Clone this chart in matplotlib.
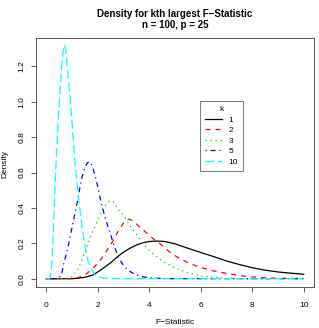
import numpy as np
import matplotlib
matplotlib.use("Agg")
import matplotlib.pyplot as plt

plt.rcParams["font.family"] = ["Liberation Sans", "DejaVu Sans"]

# valores (densidade da k-esima maior estatistica F)
x_k1 = [0, 1.0, 1.2, 1.5, 1.8, 2.0, 2.2, 2.5, 2.8, 3.0, 3.25, 3.5, 3.75, 4.0, 4.3, 4.6, 5.0, 5.5, 6.0, 6.5, 7.0, 7.5, 8.0, 8.5, 9.0, 9.5, 10]
y_k1 = [0, 0, 0.002, 0.008, 0.02, 0.038, 0.058, 0.09, 0.128, 0.15, 0.172, 0.19, 0.203, 0.21, 0.213, 0.21, 0.197, 0.172, 0.148, 0.125, 0.10, 0.08, 0.062, 0.048, 0.038, 0.031, 0.025]

x_k2 = [0, 1.0, 1.2, 1.4, 1.6, 1.8, 2.0, 2.2, 2.4, 2.6, 2.8, 3.0, 3.2, 3.4, 3.6, 3.8, 4.0, 4.2, 4.4, 4.6, 4.8, 5.0, 5.5, 6.0, 6.5, 7.0, 7.5, 8.0, 8.5, 9.0, 10]
y_k2 = [0, 0, 0.005, 0.015, 0.032, 0.056, 0.088, 0.125, 0.17, 0.215, 0.27, 0.315, 0.337, 0.325, 0.295, 0.27, 0.245, 0.22, 0.20, 0.175, 0.15, 0.13, 0.09, 0.063, 0.044, 0.03, 0.018, 0.01, 0.005, 0.002, 0.001]

x_k3 = [0, 0.8, 0.9, 1.0, 1.2, 1.4, 1.6, 1.8, 2.0, 2.2, 2.4, 2.5, 2.6, 2.8, 3.0, 3.25, 3.5, 3.75, 4.0, 4.5, 5.0, 5.5, 6.0, 6.5, 7.0, 8.0, 10]
y_k3 = [0, 0, 0.005, 0.012, 0.045, 0.11, 0.19, 0.265, 0.33, 0.395, 0.435, 0.44, 0.435, 0.39, 0.36, 0.30, 0.25, 0.20, 0.16, 0.10, 0.06, 0.033, 0.016, 0.008, 0.003, 0, 0]

x_k5 = [0, 0.4, 0.5, 0.6, 0.7, 0.8, 0.9, 1.0, 1.1, 1.2, 1.3, 1.4, 1.5, 1.6, 1.7, 1.8, 1.9, 2.0, 2.1, 2.2, 2.3, 2.4, 2.5, 2.6, 2.8, 3.0, 3.2, 3.4, 3.7, 4.0, 4.5, 5.0, 10]
y_k5 = [0, 0, 0.003, 0.03, 0.10, 0.15, 0.22, 0.29, 0.36, 0.43, 0.51, 0.58, 0.63, 0.655, 0.66, 0.63, 0.58, 0.52, 0.45, 0.39, 0.34, 0.29, 0.25, 0.20, 0.12, 0.075, 0.045, 0.028, 0.012, 0.005, 0.001, 0, 0]

x_k10 = [0, 0.1, 0.15, 0.2, 0.25, 0.3, 0.35, 0.4, 0.45, 0.5, 0.55, 0.6, 0.65, 0.7, 0.75, 0.8, 0.85, 0.9, 0.95, 1.0, 1.1, 1.2, 1.3, 1.4, 1.5, 1.6, 1.7, 1.8, 1.9, 2.0, 2.2, 2.5, 3.0, 10]
y_k10 = [0, 0, 0.01, 0.06, 0.18, 0.38, 0.56, 0.72, 0.86, 0.98, 1.10, 1.20, 1.28, 1.32, 1.30, 1.22, 1.14, 1.06, 0.98, 0.88, 0.68, 0.53, 0.40, 0.28, 0.19, 0.11, 0.07, 0.04, 0.02, 0.012, 0.004, 0.001, 0, 0]

ks = ["1", "2", "3", "5", "10"]

fig = plt.figure(figsize=(3.19, 3.28), dpi=100)
ax = fig.add_axes([0.1129, 0.125, 0.8714, 0.7591])

lw = 0.9
ax.plot(x_k1, y_k1, color="black", lw=lw, label=ks[0])
ax.plot(x_k2, y_k2, color="#FF0000", lw=lw, dashes=(4, 4), label=ks[1])
ax.plot(x_k3, y_k3, color="#00CD00", lw=lw, dashes=(1, 3), label=ks[2])
ax.plot(x_k5, y_k5, color="#0000FF", lw=lw, dashes=(1, 3, 4, 3), label=ks[3])
ax.plot(x_k10, y_k10, color="#00FFFF", lw=lw, dashes=(7, 3), label=ks[4])

ax.set_xlim(-0.4, 10.4)
ax.set_ylim(-0.047, 1.36)
ax.set_xticks([0, 2, 4, 6, 8, 10])
ax.set_yticks([0.0, 0.2, 0.4, 0.6, 0.8, 1.0, 1.2])
ax.set_yticklabels(["0.0", "0.2", "0.4", "0.6", "0.8", "1.0", "1.2"], rotation=90, va="center")
ax.tick_params(labelsize=6, length=3.5, width=0.6, color="#444444")
ax.tick_params(axis="x", pad=7)
ax.tick_params(axis="y", pad=4)
for s in ax.spines.values():
    s.set_linewidth(0.7)
    s.set_color("#555555")

fig.text(0.5486, 0.957, "Density for kth largest F\u2212Statistic", ha="center", va="center",
         fontsize=7, fontweight="bold")
fig.text(0.5486, 0.923, "n = 100, p = 25", ha="center", va="center", fontsize=7, fontweight="bold")
fig.text(0.5486, 0.018, "F\u2212Statistic", ha="center", va="center", fontsize=6)
fig.text(0.016, 0.5, "Density", ha="center", va="center", rotation=90, fontsize=6)

leg = ax.legend(title="k", loc="upper left", bbox_to_anchor=(0.59, 0.747), fontsize=6,
                title_fontsize=6, handlelength=2.0, handletextpad=0.8, frameon=True,
                fancybox=False, borderpad=0.6, labelspacing=0.32, borderaxespad=0)
leg.get_frame().set_edgecolor("#555555")
leg.get_frame().set_linewidth(0.7)

fig.savefig("out.png", dpi=100)
